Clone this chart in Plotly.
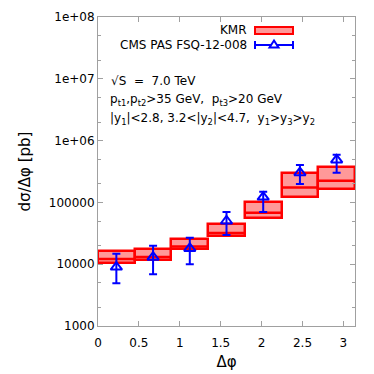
import math
import plotly.graph_objects as go

# ---- data ----
n_bins = 7
bin_lo = [i * math.pi / n_bins for i in range(n_bins)]
bin_hi = [(i + 1) * math.pi / n_bins for i in range(n_bins)]
bin_center = [(a + b) / 2 for a, b in zip(bin_lo, bin_hi)]

kmr_lower = [10450, 11700, 17400, 28900, 56500, 124000, 165000]
kmr_central = [12100, 13100, 19300, 32000, 68100, 175000, 224000]
kmr_upper = [16400, 17600, 25300, 44700, 100500, 296000, 370000]

cms_value = [9000, 13000, 18000, 50000, 122000, 303000, 486000]
cms_err_plus = [5800, 6900, 8800, 20000, 27000, 100000, 106000]
cms_err_minus = [4100, 6100, 8000, 20300, 52000, 104000, 183000]

ytick_vals = [1e3, 1e4, 1e5, 1e6, 1e7, 1e8]
ytick_text = ["1000", "10000", "100000", "1e+06", "1e+07", "1e+08"]
xtick_vals = [0, 0.5, 1, 1.5, 2, 2.5, 3]
xtick_text = ["0", "0.5", "1", "1.5", "2", "2.5", "3"]

RED = "#ff0000"
FILL = "rgba(255,0,0,0.4)"
BLUE = "#0000ff"
FONT = "DejaVu Sans"
NB = "\u00a0"

fig = go.Figure()

# KMR boxes
fig.add_trace(go.Bar(
    x=bin_center,
    y=[u - l for u, l in zip(kmr_upper, kmr_lower)],
    base=kmr_lower,
    width=[b - a for a, b in zip(bin_lo, bin_hi)],
    marker=dict(color=FILL, line=dict(color=RED, width=2.5)),
    showlegend=False,
))

# KMR central lines
cx, cy = [], []
for a, b, c in zip(bin_lo, bin_hi, kmr_central):
    cx += [a, b, None]
    cy += [c, c, None]
fig.add_trace(go.Scatter(x=cx, y=cy, mode="lines",
                         line=dict(color=RED, width=2.5), showlegend=False))

# CMS data
fig.add_trace(go.Scatter(
    x=bin_center, y=cms_value, mode="markers",
    marker=dict(symbol="triangle-up-open", size=10, color=BLUE,
                line=dict(color=BLUE, width=2)),
    error_y=dict(type="data", array=cms_err_plus, arrayminus=cms_err_minus,
                 color=BLUE, thickness=2, width=4),
    showlegend=False,
))

L, R, T, B = 98, 19, 17, 48
W = 374 - L - R
H = 374 - T - B

def px(x):
    return (x - L) / W

def py(y):
    return (374 - B - y) / H

shapes = [
    # legend samples
    dict(type="rect", xref="paper", yref="paper",
         x0=px(255), x1=px(293), y0=py(34), y1=py(27),
         fillcolor=FILL, line=dict(color=RED, width=2)),
    dict(type="line", xref="paper", yref="paper",
         x0=px(255), x1=px(293), y0=py(45), y1=py(45),
         line=dict(color=BLUE, width=2)),
    dict(type="line", xref="paper", yref="paper",
         x0=px(255), x1=px(255), y0=py(41), y1=py(49),
         line=dict(color=BLUE, width=2)),
    dict(type="line", xref="paper", yref="paper",
         x0=px(293), x1=px(293), y0=py(41), y1=py(49),
         line=dict(color=BLUE, width=2)),
    dict(type="path", xref="paper", yref="paper",
         path=f"M {px(274)} {py(40.5)} L {px(278.5)} {py(47.5)} L {px(269.5)} {py(47.5)} Z",
         fillcolor="white", line=dict(color=BLUE, width=2)),
]

annotations = [
    dict(text="KMR", x=px(249), y=py(30.5), xref="paper", yref="paper",
         xanchor="right", yanchor="middle", showarrow=False,
         font=dict(family=FONT, size=12, color="black")),
    dict(text="CMS PAS FSQ-12-008", x=px(249), y=py(45), xref="paper", yref="paper",
         xanchor="right", yanchor="middle", showarrow=False,
         font=dict(family=FONT, size=12, color="black")),
    dict(text=f"√S{NB}{NB}={NB}{NB}7.0{NB}TeV", x=px(109), y=py(81), xref="paper", yref="paper",
         xanchor="left", yanchor="middle", showarrow=False,
         font=dict(family=FONT, size=12, color="black")),
    dict(text="p<sub>t1</sub>,p<sub>t2</sub>>35 GeV,  p<sub>t3</sub>>20 GeV",
         x=px(108), y=py(100), xref="paper", yref="paper",
         xanchor="left", yanchor="middle", showarrow=False,
         font=dict(family=FONT, size=12, color="black")),
    dict(text="|y<sub>1</sub>|<2.8, 3.2<|y<sub>2</sub>|<4.7,  y<sub>1</sub>>y<sub>3</sub>>y<sub>2</sub>",
         x=px(108), y=py(119), xref="paper", yref="paper",
         xanchor="left", yanchor="middle", showarrow=False,
         font=dict(family=FONT, size=12, color="black")),
]

fig.update_layout(
    width=374, height=374,
    margin=dict(l=L, r=R, t=T, b=B, autoexpand=False),
    paper_bgcolor="white", plot_bgcolor="white",
    font=dict(family=FONT, size=12, color="black"),
    shapes=shapes, annotations=annotations,
    showlegend=False,
    bargap=0,
)

fig.update_xaxes(
    range=[0, math.pi], automargin=False,
    tickvals=xtick_vals, ticktext=xtick_text,
    ticks="inside", ticklen=5, tickcolor="#a0a0a0",
    ticklabelstandoff=6,
    showline=True, linecolor="#a0a0a0", linewidth=1, mirror="ticks",
    showgrid=False, zeroline=False,
    title=dict(text="Δφ", font=dict(family=FONT, size=15), standoff=7),
    tickfont=dict(family=FONT, size=12),
)
fig.update_yaxes(
    type="log", range=[3, 8], automargin=False,
    tickvals=ytick_vals, ticktext=ytick_text,
    ticks="inside", ticklen=5, tickcolor="#a0a0a0",
    minor=dict(ticks="inside", ticklen=3, tickcolor="#a0a0a0", dtick="D2"),
    showline=True, linecolor="#a0a0a0", linewidth=1, mirror="ticks",
    showgrid=False, zeroline=False,
    title=dict(text="dσ/Δφ [pb]", font=dict(family=FONT, size=15), standoff=14),
    tickfont=dict(family=FONT, size=12),
)

fig.write_html("out.html",
               config={"displayModeBar": False},
               post_script="document.body.style.margin='0';document.body.style.padding='0';")
